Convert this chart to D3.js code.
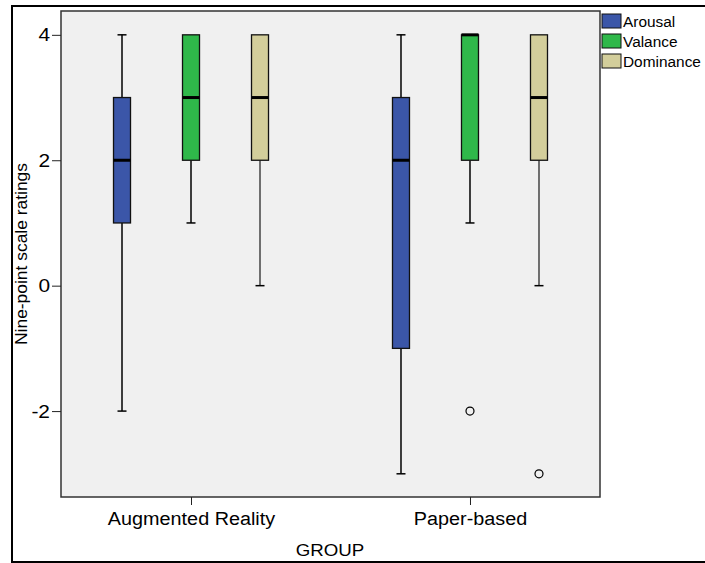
<!DOCTYPE html>
<html>
<head>
<meta charset="utf-8">
<script src="https://cdn.jsdelivr.net/npm/d3@7"></script>
<style>
  body { margin: 0; background: #fff; }
  text { font-family: Arial, "Liberation Sans", sans-serif; fill: #000; }
</style>
</head>
<body>
<script>
// Width and height
var w = 705;
var h = 563;

// data
var groups = ["Augmented Reality", "Paper-based"];
var series = ["Arousal", "Valance", "Dominance"];
var colors = ["#3b56a8", "#2fb84a", "#d3ce9b"];

// one row per group, one column per series
var lowWhisker  = [[-2, 1, 0], [-3, 1, 0]];
var q1          = [[ 1, 2, 2], [-1, 2, 2]];
var medians     = [[ 2, 3, 3], [ 2, 4, 3]];
var q3          = [[ 3, 4, 4], [ 3, 4, 4]];
var highWhisker = [[ 4, 4, 4], [ 4, 4, 4]];

var outlierGroup  = ["Paper-based", "Paper-based"];
var outlierSeries = ["Valance", "Dominance"];
var outlierValue  = [-2, -3];

var yTicks = [-2, 0, 2, 4];

var mLeft = 61, mRight = 600, mTop = 11, mBottom = 497;

// the reference text is a bit wider than Arial
function stretch(sel) {
  sel.each(function(){
    var len = this.getComputedTextLength();
    d3.select(this).attr("textLength", len * 1.1).attr("lengthAdjust", "spacingAndGlyphs");
  });
}

var svg = d3.select("body")
    .append("svg")
    .attr("width", w)
    .attr("height", h);

// outer frame
svg.append("rect")
    .attr("x", 12).attr("y", 6)
    .attr("width", 700).attr("height", 556)
    .attr("fill", "none")
    .attr("stroke", "#000")
    .attr("stroke-width", 2);

var x = d3.scalePoint().domain(groups).range([mLeft, mRight]).padding(0.466);
var xs = d3.scalePoint().domain(series).range([-69, 69]);
var y = d3.scaleLinear().domain([-3.37, 4.38]).range([mBottom, mTop]);
var color = d3.scaleOrdinal().domain(series).range(colors);

// plot background
svg.append("rect")
    .attr("x", mLeft).attr("y", mTop)
    .attr("width", mRight - mLeft).attr("height", mBottom - mTop)
    .attr("fill", "#f0f0f0")
    .attr("stroke", "#333")
    .attr("stroke-width", 1.5);

// axes
var yAxis = svg.append("g")
    .attr("transform", "translate(" + mLeft + ",0)")
    .call(d3.axisLeft(y).tickValues(yTicks).tickSize(9).tickPadding(2)
      .tickFormat(function(d){ return d < 0 ? "-" + Math.abs(d) : String(d); }));
yAxis.select(".domain").remove();
yAxis.selectAll("line").attr("stroke", "#222");
yAxis.selectAll("text")
    .attr("font-size", 19)
    .attr("font-family", "Arial, 'Liberation Sans', sans-serif")
    .call(stretch);

var xAxis = svg.append("g")
    .attr("transform", "translate(0," + mBottom + ")")
    .call(d3.axisBottom(x).tickSize(8).tickPadding(7));
xAxis.select(".domain").remove();
xAxis.selectAll("line").attr("stroke", "#222");
xAxis.selectAll("text")
    .attr("font-size", 18)
    .attr("font-family", "Arial, 'Liberation Sans', sans-serif")
    .call(stretch);

svg.append("text")
    .attr("x", 330).attr("y", 556)
    .attr("text-anchor", "middle")
    .attr("font-size", 17)
    .text("GROUP")
    .call(stretch);

svg.append("text")
    .attr("transform", "translate(27,254) rotate(-90)")
    .attr("text-anchor", "middle")
    .attr("font-size", 17)
    .attr("textLength", 182)
    .attr("lengthAdjust", "spacingAndGlyphs")
    .text("Nine-point scale ratings");

// build box rows
var boxes = [];
groups.forEach(function(g, i){
  series.forEach(function(s, j){
    boxes.push({
      group: g, series: s,
      lo: lowWhisker[i][j], q1: q1[i][j], med: medians[i][j],
      q3: q3[i][j], hi: highWhisker[i][j]
    });
  });
});

var bw = 17, cap = 9;
var cx = function(d){ return x(d.group) + xs(d.series); };

var bx = svg.selectAll(".box")
    .data(boxes)
    .enter()
    .append("g")
    .attr("class", "box");

// whiskers
bx.filter(function(d){ return d.hi > d.q3; }).append("line")
    .attr("x1", cx).attr("x2", cx)
    .attr("y1", function(d){ return y(d.hi); })
    .attr("y2", function(d){ return y(d.q3); })
    .attr("stroke", "#000").attr("stroke-width", 1.5);
bx.filter(function(d){ return d.hi > d.q3; }).append("line")
    .attr("x1", function(d){ return cx(d) - cap / 2; })
    .attr("x2", function(d){ return cx(d) + cap / 2; })
    .attr("y1", function(d){ return y(d.hi); })
    .attr("y2", function(d){ return y(d.hi); })
    .attr("stroke", "#000").attr("stroke-width", 1.5);
bx.filter(function(d){ return d.lo < d.q1; }).append("line")
    .attr("x1", cx).attr("x2", cx)
    .attr("y1", function(d){ return y(d.q1); })
    .attr("y2", function(d){ return y(d.lo); })
    .attr("stroke", function(d){ return d.series === "Dominance" ? "#444" : "#000"; })
    .attr("stroke-width", 1.5);
bx.filter(function(d){ return d.lo < d.q1; }).append("line")
    .attr("x1", function(d){ return cx(d) - cap / 2; })
    .attr("x2", function(d){ return cx(d) + cap / 2; })
    .attr("y1", function(d){ return y(d.lo); })
    .attr("y2", function(d){ return y(d.lo); })
    .attr("stroke", "#000").attr("stroke-width", 1.5);

// boxes
bx.append("rect")
    .attr("x", function(d){ return cx(d) - bw / 2; })
    .attr("y", function(d){ return y(d.q3); })
    .attr("width", bw)
    .attr("height", function(d){ return y(d.q1) - y(d.q3); })
    .attr("fill", function(d){ return color(d.series); })
    .attr("stroke", "#111")
    .attr("stroke-width", 1.3);

// medians
bx.append("line")
    .attr("x1", function(d){ return cx(d) - bw / 2; })
    .attr("x2", function(d){ return cx(d) + bw / 2; })
    .attr("y1", function(d){ return y(d.med); })
    .attr("y2", function(d){ return y(d.med); })
    .attr("stroke", "#000")
    .attr("stroke-width", 3);

// outliers
svg.selectAll(".outlier")
    .data(outlierValue)
    .enter()
    .append("circle")
    .attr("class", "outlier")
    .attr("cx", function(d, i){ return x(outlierGroup[i]) + xs(outlierSeries[i]); })
    .attr("cy", function(d){ return y(d); })
    .attr("r", 4)
    .attr("fill", "none")
    .attr("stroke", "#000")
    .attr("stroke-width", 1.2);

// legend
var lg = svg.selectAll(".legend")
    .data(series)
    .enter()
    .append("g")
    .attr("class", "legend")
    .attr("transform", function(d, i){ return "translate(602," + (14 + i * 20) + ")"; });
lg.append("rect")
    .attr("width", 19).attr("height", 14)
    .attr("fill", function(d){ return color(d); })
    .attr("stroke", "#111")
    .attr("stroke-width", 1);
lg.append("text")
    .attr("x", 21).attr("y", 13)
    .attr("font-size", 14)
    .text(function(d){ return d; })
    .call(stretch);
</script>
</body>
</html>
